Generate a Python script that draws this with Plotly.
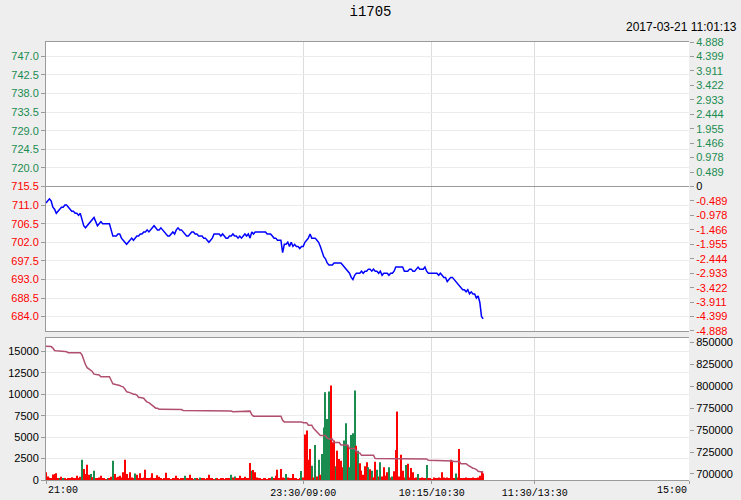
import plotly.graph_objects as go

# ---------------- data ----------------
symbol = "i1705"
stamp = "2017-03-21 11:01:13"
prev_close = 715.5
max_pct = 4.888

# trading minutes on the x axis: 21:00-23:30 | 09:00-10:15 | 10:30-11:30 | 13:30-15:00
session_ticks = [0, 150, 225, 285, 375]
session_labels = ["21:00", "23:30/09:00", "10:15/10:30", "11:30/13:30", "15:00"]

price = [
    711.5, 712.0, 712.5, 712.0, 710.5, 710.0, 709.0, 709.5, 710.0, 710.5,
    710.5, 711.0, 711.0, 710.5, 710.0, 709.5, 709.5, 709.0, 709.0, 708.5,
    709.0, 707.5, 706.0, 705.5, 706.0, 706.5, 707.0, 707.5, 708.0, 707.0,
    706.0, 706.5, 707.0, 706.5, 706.5, 706.5, 706.5, 706.5, 705.0, 703.5,
    703.5, 703.5, 704.0, 704.0, 703.0, 702.5, 702.0, 701.5, 702.0, 702.5,
    703.0, 702.5, 703.0, 703.5, 703.5, 704.0, 704.0, 704.5, 704.5, 705.0,
    704.5, 705.0, 705.5, 706.0, 705.5, 705.0, 705.0, 705.5, 705.0, 704.5,
    704.0, 703.5, 703.5, 704.0, 704.5, 704.0, 705.0, 705.5, 705.0, 705.0,
    704.5, 704.0, 703.5, 703.5, 704.0, 704.5, 704.5, 704.0, 704.0, 703.5,
    703.5, 703.5, 703.0, 703.0, 702.5, 702.0, 702.5, 703.0, 704.0, 704.0,
    704.0, 704.0, 703.5, 704.0, 703.5, 703.0, 703.0, 703.5, 703.5, 704.0,
    703.5, 703.5, 703.0, 703.5, 703.0, 703.5, 704.0, 703.5, 704.0, 703.0,
    704.5, 704.0, 704.5, 704.5, 704.5, 704.5, 704.5, 704.5, 704.5, 704.0,
    704.0, 704.0, 703.5, 703.0, 703.0, 702.5, 702.5, 702.5, 699.5, 701.5,
    701.5, 702.0, 701.0, 702.0, 701.0, 701.5, 701.0, 701.0, 700.5, 701.0,
    701.0, 702.0, 702.5, 703.0, 704.0, 703.0, 703.0, 703.0, 702.5, 702.0,
    701.0, 699.5, 698.5, 698.0, 697.0, 696.5, 696.5, 696.5, 697.0, 697.0,
    697.0, 697.0, 697.0, 696.5, 696.0, 695.5, 695.0, 694.5, 693.5, 693.0,
    694.0, 694.5, 694.5, 694.5, 695.0, 694.5, 695.0, 695.0, 695.5, 695.5,
    695.0, 695.5, 695.0, 695.0, 694.5, 695.0, 694.0, 694.5, 694.5, 694.5,
    694.0, 694.5, 694.5, 695.0, 696.0, 696.0, 696.0, 696.0, 696.0, 695.0,
    695.0, 695.0, 695.5, 695.5, 695.0, 695.0, 695.5, 696.0, 695.5, 695.5,
    695.5, 696.0, 695.0, 694.5, 694.5, 694.5, 694.5, 694.5, 694.5, 694.0,
    694.5, 694.0, 693.5, 693.5, 692.5, 693.0, 693.5, 693.5, 693.0, 692.5,
    692.0, 691.5, 691.0, 690.5, 690.5, 690.0, 690.5, 689.5, 690.0, 689.5,
    689.5, 688.5, 689.0, 687.5, 684.0, 683.5,
]

volume = [
    890, 400, 270, 150, 650, 700, 780, 200, 150, 390,
    230, 150, 100, 230, 150, 310, 120, 200, 500, 150,
    390, 2370, 1280, 700, 1790, 600, 700, 310, 1090, 200,
    150, 300, 500, 120, 200, 100, 150, 200, 390, 2255,
    700, 300, 390, 500, 300, 890, 2370, 700, 200, 890,
    300, 200, 750, 620, 200, 775, 150, 300, 1200, 200,
    150, 300, 780, 200, 150, 540, 390, 150, 100, 200,
    850, 150, 200, 100, 150, 200, 500, 150, 100, 200,
    150, 500, 200, 150, 620, 200, 100, 150, 200, 100,
    300, 150, 200, 100, 150, 620, 200, 150, 100, 200,
    150, 100, 200, 150, 100, 200, 150, 200, 620, 300,
    400, 150, 200, 500, 150, 200, 390, 150, 200, 1980,
    1090, 1160, 890, 300, 150, 200, 100, 150, 200, 100,
    150, 200, 390, 150, 500, 1200, 200, 1280, 300, 200,
    700, 300, 200, 150, 700, 200, 150, 100, 200, 1050,
    300, 5290, 5760, 2370, 3620, 1670, 300, 4080, 400, 2370,
    600, 3030, 6110, 10230, 7120, 10310, 11000, 4400, 4590, 1600,
    3420, 2450, 2250, 1480, 4590, 6610, 4000, 1500, 5250, 5450,
    10430, 4000, 3420, 1940, 1090, 600, 1590, 2060, 1480, 1260,
    1090, 300, 2140, 1200, 400, 2060, 400, 1480, 500, 890,
    1480, 300, 400, 1010, 3500, 7980, 400, 2950, 1090, 300,
    1750, 1900, 300, 1400, 890, 200, 300, 700, 200, 300,
    150, 200, 1750, 200, 150, 100, 300, 200, 150, 300,
    200, 890, 300, 150, 300, 200, 2370, 2140, 200, 770,
    300, 3620, 200, 150, 200, 300, 150, 200, 200, 300,
    150, 200, 300, 500, 1010, 770,
]

# minutes whose volume bar is green (all others red)
green_bars = [8, 10, 21, 26, 28, 36, 39, 52, 81, 87, 90, 99, 108, 110, 120,
              132, 140, 149, 155, 157, 159, 161, 162, 163, 164, 165, 169, 174,
              175, 177, 178, 179, 180, 182, 188, 190, 193, 195, 200, 202, 210,
              217, 222, 239]

open_interest = (
    [846000, 846000, 846000, 845500, 843800, 841000, 840800, 840800, 840800, 840800,
     840000, 840000, 839500, 838500, 838500, 838500, 838800, 838800, 838800, 838800,
     838500, 836000, 830000, 825000, 821400, 820000, 819000, 817000, 814000, 813700,
     813700, 813000, 811000, 811000, 811000, 811000, 811000, 811000, 807000, 803000,
     802500, 802000, 802000, 801000, 800000, 799500, 797000, 794000, 793400, 793000,
     792000, 791000, 791000, 790000, 787300, 787300, 787000, 786500, 784000, 782000,
     781500, 780000, 778500, 777000, 775100, 775000]
    + [774000] * 7 + [773500] * 7 + [772500] * 23 + [771800] * 6 + [771000] * 2
    + [771700] * 9 + [767900] + [766000] * 17 + [761300] + [759400] * 11
    + [758500] * 3 + [755600] * 3
    + [752000, 750000, 748000, 746000, 743800, 743800, 743800, 743800, 741000, 740000,
       740000, 740000, 735800, 735800, 735800, 735800]
    + [733000] * 5 + [728900] * 4 + [726000, 724000, 724000] + [721200] * 8
    + [717500] * 5 + [717000] * 26 + [715500] * 4 + [714800] * 11 + [714200] * 4
    + [711700] * 4
    + [710000, 708500, 707500, 706500, 706000, 705000, 703000, 702100, 702100, 702100]
)

price_ticks = [684.0, 688.5, 693.0, 697.5, 702.0, 706.5, 711.0, 715.5,
               720.0, 724.5, 729.0, 733.5, 738.0, 742.5, 747.0]
pct_ticks = [4.888, 4.399, 3.911, 3.422, 2.933, 2.444, 1.955, 1.466, 0.978, 0.489, 0,
             -0.489, -0.978, -1.466, -1.955, -2.444, -2.933, -3.422, -3.911, -4.399, -4.888]
vol_ticks = [0, 2500, 5000, 7500, 10000, 12500, 15000]
oi_ticks = [700000, 725000, 750000, 775000, 800000, 825000, 850000]

GREEN = "#1a8c50"
RED = "#ff0000"
FRAME = "#9a9a9a"
GRID = "#ececec"
VGRID = "#dcdcdc"

# ---------------- figure ----------------
minutes = list(range(len(price)))
vmin = list(range(len(volume)))
omin = list(range(len(open_interest)))
bar_colors = [GREEN if m in green_bars else RED for m in vmin]
pct_change = [(p / prev_close - 1) * 100 for p in price]


def colored(text, value, ref):
    if value > ref:
        c = GREEN
    elif value < ref or ref == prev_close:
        c = RED
    else:
        c = "black"
    return '<span style="color:%s">%s</span>' % (c, text)


fig = go.Figure()
# invisible copy in percent so the right-hand percent axis gets drawn
fig.add_trace(go.Scatter(x=minutes, y=pct_change, mode="lines",
                         line=dict(color="rgba(0,0,0,0)", width=0),
                         xaxis="x", yaxis="y2", hoverinfo="skip"))
fig.add_trace(go.Scatter(x=minutes, y=price, mode="lines",
                         line=dict(color="#0000ff", width=1.5),
                         xaxis="x", yaxis="y", hoverinfo="skip"))
fig.add_trace(go.Bar(x=vmin, y=volume, marker=dict(color=bar_colors, line=dict(width=0)),
                     width=0.6, xaxis="x2", yaxis="y3", hoverinfo="skip"))
fig.add_trace(go.Scatter(x=omin, y=open_interest, mode="lines",
                         line=dict(color="#b0506e", width=1.5),
                         xaxis="x2", yaxis="y4", hoverinfo="skip"))

lo = prev_close * (1 - max_pct / 100)
hi = prev_close * (1 + max_pct / 100)

common_x = dict(range=[0, 375], showline=True, mirror=True, linecolor=FRAME,
                tickvals=session_ticks[1:4], showgrid=True, gridcolor=VGRID,
                zeroline=False, fixedrange=True, automargin=False)

fig.update_layout(
    width=741, height=500, autosize=False,
    margin=dict(l=46, r=52, t=42, b=20),
    paper_bgcolor="#eeeeee", plot_bgcolor="white",
    showlegend=False,
    font=dict(family="Liberation Sans, Arial", size=11, color="black"),
    title=dict(text=symbol, x=0.5, xanchor="center", y=0.978, yanchor="middle",
               font=dict(family="Liberation Mono", size=14, color="black")),
    xaxis=dict(common_x, anchor="y", showticklabels=False, ticks=""),
    yaxis=dict(domain=[0.3402, 1], range=[lo, hi], tickvals=price_ticks,
               ticktext=[colored("%.1f" % v, v, prev_close) for v in price_ticks],
               ticks="outside", ticklen=4, tickcolor=FRAME, showline=True, linecolor=FRAME,
               gridcolor=GRID, zeroline=False, automargin=False),
    yaxis2=dict(overlaying="y", side="right", anchor="x", range=[-max_pct, max_pct],
                tickvals=pct_ticks,
                ticktext=[colored(("%g" % v) if v == 0 else "%.3f" % v, v, 0) for v in pct_ticks],
                ticks="outside", ticklen=4, tickcolor=FRAME, showgrid=False,
                zeroline=True, zerolinecolor=FRAME, zerolinewidth=1, automargin=False),
    xaxis2=dict(common_x, anchor="y3", tickvals=session_ticks,
                ticktext=[""] + session_labels[1:4] + [""],
                ticks="outside", ticklen=3, tickcolor=FRAME,
                tickfont=dict(family="Liberation Mono", size=10)),
    yaxis3=dict(domain=[0, 0.3242], range=[0, 16550], tickvals=vol_ticks, tickformat="d",
                ticks="outside", ticklen=4, tickcolor=FRAME, showline=True, linecolor=FRAME,
                gridcolor=GRID, zeroline=False, automargin=False),
    yaxis4=dict(overlaying="y3", side="right", anchor="x2", range=[693000, 855300],
                tickvals=oi_ticks, tickformat="d", ticks="outside", ticklen=4, tickcolor=FRAME,
                showgrid=False, zeroline=False, automargin=False),
    annotations=[
        dict(text=stamp, xref="paper", yref="paper", x=1.0778, y=1.034,
             xanchor="right", yanchor="middle", showarrow=False,
             font=dict(family="Liberation Sans, Arial", size=12)),
        dict(text=session_labels[0], xref="x2", yref="paper", x=session_ticks[0], y=-0.024,
             xanchor="left", yanchor="middle", showarrow=False,
             font=dict(family="Liberation Mono", size=10)),
        dict(text=session_labels[-1], xref="x2", yref="paper", x=session_ticks[-1], y=-0.024,
             xanchor="right", yanchor="middle", showarrow=False,
             font=dict(family="Liberation Mono", size=10)),
    ],
)

fig.write_html(
    "out.html",
    config={"responsive": False, "displayModeBar": False},
    default_width="741px", default_height="500px",
    post_script="document.body.style.margin='0';document.body.style.overflow='hidden';"
                "document.body.style.background='#eeeeee';",
)
